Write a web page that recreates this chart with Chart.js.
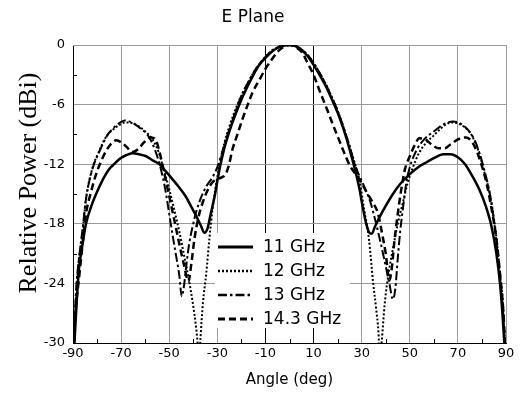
<!DOCTYPE html>
<html>
<head>
<meta charset="utf-8">
<script src="https://cdn.jsdelivr.net/npm/chart.js@4.4.1/dist/chart.umd.min.js"></script>
<style>
  html, body { margin: 0; padding: 0; background: #fff; }
  #wrap { width: 520px; height: 394px; }
</style>
</head>
<body>
<div id="wrap"><canvas id="ePlaneChart" width="520" height="394"></canvas></div>
<script>
// --- Axis ticks and labels ---
const xTickValues = [-90, -70, -50, -30, -10, 10, 30, 50, 70, 90];
const yTickValues = [-30, -24, -18, -12, -6, 0];
const seriesLabels = ['11 GHz', '12 GHz', '13 GHz', '14.3 GHz'];

// --- 11 GHz (solid) ---
const angle11 = [-89.4, -88.5, -87.5, -86, -84.6, -82.5, -80.4, -77.5, -75, -72.5, -70.8, -68, -65.4, -62.5, -59.6, -57, -54, -51.5, -48.7, -46, -43, -40.8, -38.8, -37, -35.3, -34, -33, -32, -31, -30, -29, -27, -25, -22.5, -20, -17.5, -15, -12.5, -10, -7.5, -5, -2.5, 0, 2.5, 5, 7.5, 10, 12.5, 15, 17.5, 20, 22.5, 25, 27.5, 29, 30.5, 32, 33.2, 34.2, 35.5, 37.5, 40, 43, 46, 50, 53.5, 57, 60, 64, 67, 70, 73, 76, 79, 81.7, 84, 86, 87.5, 88.5, 89.3];
const power11 = [-30, -26, -22.5, -20, -18, -16.3, -15, -13.5, -12.5, -11.9, -11.5, -11.1, -10.9, -11.0, -11.2, -11.6, -12.0, -12.7, -13.5, -14.3, -15.3, -16.3, -17.2, -18.1, -18.9, -18.4, -17.3, -16.2, -15.1, -13.7, -12.4, -10.3, -8.7, -7.0, -5.5, -4.2, -3.0, -2.0, -1.3, -0.7, -0.3, -0.05, 0, -0.1, -0.5, -1.1, -2.0, -3.0, -4.1, -5.4, -6.8, -8.5, -10.5, -12.8, -14.4, -16.4, -18.1, -18.9, -19.0, -18.3, -17.3, -16.2, -15.0, -14.0, -13.0, -12.3, -11.8, -11.4, -11.0, -11.0, -11.3, -12.0, -13.2, -14.6, -16.3, -18.3, -21, -24, -27, -30];

// --- 12 GHz (dotted) ---
const angle12 = [-89.6, -88.8, -87.5, -86, -84.6, -81.7, -79.5, -77.5, -75.5, -73.3, -71, -68.3, -65, -62, -59.5, -56.7, -54.5, -52.9, -51.5, -50, -48, -45.8, -43.8, -41.7, -40, -38.8, -38.2, -37.6, -37, -36, -34.6, -33.3, -32, -30.5, -29, -27, -25, -22.5, -20, -17.5, -15, -12.5, -10, -7.5, -5, -2.5, 0, 2.5, 5, 7.5, 10, 12.5, 15, 17.5, 20, 22.5, 25, 27.5, 29, 31, 33, 34.8, 36, 37, 37.6, 38.3, 39.6, 41.5, 43, 45, 47, 49, 51, 54, 57, 60, 62.5, 65, 68, 71, 75, 77, 79, 81, 83.3, 85, 86.3, 87.5, 88.7, 89.5];
const power12 = [-30, -25.5, -21.5, -18.8, -15.5, -12.2, -10.9, -9.8, -9.0, -8.5, -8.1, -7.8, -7.9, -8.3, -8.8, -9.6, -10.7, -12.0, -13.2, -14.5, -16.5, -18.8, -21.2, -23.8, -26.3, -28.5, -30, -32, -29.5, -26, -23, -19.5, -16.5, -14, -12, -9.8, -8.2, -6.5, -5.1, -3.9, -2.8, -1.9, -1.2, -0.6, -0.25, -0.05, 0, -0.1, -0.45, -1.0, -1.8, -2.8, -3.9, -5.2, -6.6, -8.3, -10.2, -12.2, -13.5, -16.5, -19.5, -24, -26.5, -29, -32, -30, -26, -22.5, -20.5, -18, -16, -14, -12.5, -10.8, -9.8, -9.1, -8.5, -8.0, -7.8, -8.0, -8.8, -9.7, -11, -12.8, -15, -17.5, -20, -23, -26, -30];

// --- 13 GHz (dash-dot) ---
const angle13 = [-89.6, -88.8, -87.5, -86, -84.6, -81.7, -79.5, -77.5, -75.5, -73.3, -71, -68.5, -65.5, -62.5, -60, -58.3, -56, -54, -52.5, -51.3, -50, -48.7, -47.3, -45.8, -44.8, -44, -42.8, -41.7, -40.3, -38.8, -36.5, -34.5, -32, -30, -28, -26, -24, -22, -20, -17.5, -15, -12.5, -10, -7.5, -5, -2.5, 0, 2.5, 5, 7.5, 10, 12.5, 15, 17.5, 20, 22.5, 25, 27.5, 29.5, 31.5, 33.5, 35.5, 37.5, 39.5, 41.5, 43, 44, 45, 46, 47.5, 48.6, 50, 53, 56, 60, 64, 68, 71, 74, 77, 79, 81, 83.3, 85, 86.3, 87.5, 88.7, 89.5];
const power13 = [-30, -25, -21.5, -18.5, -15.5, -12.3, -11, -9.9, -9.0, -8.4, -7.9, -7.6, -7.8, -8.3, -8.8, -9.3, -10.5, -12, -13.5, -15, -17, -19, -21, -23.2, -25.3, -24.5, -22, -20, -18.3, -16.8, -15.2, -14.2, -13.3, -12.3, -10.8, -9.2, -7.8, -6.4, -5.1, -3.9, -2.8, -1.9, -1.2, -0.6, -0.25, -0.05, 0, -0.1, -0.45, -1.0, -1.8, -2.8, -3.9, -5.2, -6.6, -8.3, -10.2, -12.3, -13.4, -14.5, -15.7, -17.5, -19.5, -21.7, -24, -25.6, -24.5, -21.5, -18.8, -15.8, -13.8, -12.3, -10.5, -9.5, -8.7, -8.0, -7.7, -7.9, -8.5, -9.6, -10.9, -12.6, -15, -17.7, -20.5, -23.5, -26.5, -30];

// --- 14.3 GHz (dashed) ---
const angle14 = [-89.6, -88.8, -87.5, -86, -84.6, -82.5, -80.4, -78.5, -76.3, -74, -72, -70, -67.5, -65.5, -63, -60.5, -57.5, -55.5, -53.5, -52, -50, -48, -46, -44, -42, -40.8, -39.5, -38, -36, -34, -32, -30, -28, -26.5, -25, -23.7, -21.5, -19.6, -17.5, -15.4, -12.5, -10, -7.5, -5, -2.5, 0, 2.5, 5.4, 7.5, 10, 12.5, 15.8, 18.5, 21, 23, 25, 27.8, 30, 32, 34.5, 36.7, 38.5, 40, 41.5, 42.5, 43.5, 45, 46.5, 48, 50, 52, 54, 56.5, 59, 62, 64.5, 67, 70, 73.5, 76, 78, 80, 82, 84, 86, 87.5, 88.8, 89.6];
const power14 = [-30, -26.5, -23.5, -20, -17, -14.8, -13, -11.8, -10.7, -9.9, -9.6, -9.8, -10.3, -10.8, -10.5, -9.8, -9.3, -9.6, -11.3, -13, -15.2, -17.5, -19.8, -22, -23.8, -22, -19.5, -17.5, -15.8, -14.6, -13.8, -13.5, -13.3, -13.0, -11.9, -10.5, -8.9, -7.5, -6.1, -4.8, -3.5, -2.4, -1.5, -0.7, -0.2, 0, -0.2, -0.8, -1.8, -3.0, -4.6, -6.6, -8.3, -9.8, -11.0, -12.1, -13.1, -13.9, -14.8, -15.8, -16.9, -19, -21, -23.7, -22.5, -20, -17, -14.5, -12.5, -11.2, -10.1, -9.4, -9.5, -10.0, -10.4, -10.4, -10.0, -9.5, -9.3, -9.8, -10.8, -12.2, -14, -16.5, -19.5, -23, -26.5, -30];

function toPoints(xs, ys) {
    return xs.map((x, i) => ({ x: x, y: ys[i] }));
}

Chart.defaults.font.family = "'DejaVu Sans', sans-serif";
Chart.defaults.color = '#000';

// frame, minor ticks, y title and the boxed legend inside the plot
const plotExtras = {
    id: 'plotExtras',
    beforeDatasetsDraw(chart) {
        const { ctx, chartArea: a } = chart;
        ctx.save();
        // white legend box hides the grid behind it
        ctx.fillStyle = '#fff';
        ctx.fillRect(a.left + 142, a.top + 188, 135, 95);
        // top and right edges are grey in the original
        ctx.strokeStyle = '#9a9a9a';
        ctx.lineWidth = 1;
        ctx.beginPath();
        const t = Math.round(a.top) + 0.5, r = Math.round(a.right) + 0.5;
        ctx.moveTo(a.left, t);
        ctx.lineTo(r, t);
        ctx.lineTo(r, a.bottom);
        ctx.stroke();
        ctx.restore();
    },
    afterDatasetsDraw(chart) {
        const { ctx, chartArea: a, scales: { x, y } } = chart;
        ctx.save();
        // legend
        const rowY = [247, 271, 295, 319];
        ctx.font = "17px 'DejaVu Sans'";
        ctx.textBaseline = 'middle';
        chart.data.datasets.forEach((ds, i) => {
            ctx.beginPath();
            ctx.strokeStyle = ds.borderColor;
            ctx.lineWidth = ds.borderWidth + 0.5;
            ctx.setLineDash(ds.borderDash || []);
            ctx.moveTo(a.left + 145, rowY[i]);
            ctx.lineTo(a.left + 180, rowY[i]);
            ctx.stroke();
            ctx.setLineDash([]);
            ctx.fillStyle = '#000';
            ctx.fillText(ds.label, a.left + 190, rowY[i] + 1);
        });

        // minor ticks on bottom and left axes
        ctx.strokeStyle = '#000';
        ctx.lineWidth = 1;
        ctx.beginPath();
        for (let v = -80; v <= 80; v += 20) {
            const px = Math.round(x.getPixelForValue(v)) + 0.5;
            ctx.moveTo(px, a.bottom);
            ctx.lineTo(px, a.bottom - 4);
        }
        for (let v = -27; v <= -3; v += 6) {
            const py = Math.round(y.getPixelForValue(v)) + 0.5;
            ctx.moveTo(a.left, py);
            ctx.lineTo(a.left + 4, py);
        }
        ctx.stroke();

        // y axis title
        ctx.translate(29, 183);
        ctx.rotate(-Math.PI / 2);
        ctx.font = "26px 'Liberation Serif'";
        ctx.textAlign = 'center';
        ctx.fillText('Relative Power (dBi)', 0, 0);
        ctx.restore();
    }
};

new Chart(document.getElementById('ePlaneChart').getContext('2d'), {
    type: 'line',
    data: {
        datasets: [
            {
                label: seriesLabels[0],
                data: toPoints(angle11, power11),
                borderColor: '#000',
                borderWidth: 2.5,
                borderDash: []
            },
            {
                label: seriesLabels[1],
                data: toPoints(angle12, power12),
                borderColor: '#000',
                borderWidth: 2,
                borderDash: [2, 2]
            },
            {
                label: seriesLabels[2],
                data: toPoints(angle13, power13),
                borderColor: '#000',
                borderWidth: 2,
                borderDash: [9, 3, 2.5, 3]
            },
            {
                label: seriesLabels[3],
                data: toPoints(angle14, power14),
                borderColor: '#000',
                borderWidth: 2.5,
                borderDash: [7, 4]
            }
        ]
    },
    options: {
        responsive: false,
        animation: false,
        clip: 0,
        cubicInterpolationMode: 'monotone',
        elements: { point: { radius: 0 } },
        layout: { padding: { right: 14 } },
        plugins: {
            legend: { display: false },
            tooltip: { enabled: false },
            title: {
                display: true,
                text: 'E Plane',
                font: { size: 17, weight: 'normal' },
                padding: { top: 7, bottom: 17.6 }
            }
        },
        scales: {
            x: {
                type: 'linear',
                min: -90,
                max: 90,
                afterFit: scale => { scale.height = 51; },
                afterBuildTicks: scale => { scale.ticks = xTickValues.map(v => ({ value: v })); },
                grid: {
                    drawTicks: false,
                    color: c => (c.tick && Math.abs(c.tick.value) === 10) ? '#000' : '#9a9a9a'
                },
                border: { color: '#000' },
                ticks: { padding: 3, font: { size: 13 }, maxRotation: 0 },
                title: {
                    display: true,
                    text: 'Angle (deg)',
                    font: { size: 15 },
                    padding: { top: 0, bottom: 5 }
                }
            },
            y: {
                min: -30,
                max: 0,
                afterFit: scale => { scale.width = 73; },
                afterBuildTicks: scale => { scale.ticks = yTickValues.map(v => ({ value: v })); },
                grid: { drawTicks: false, color: '#9a9a9a' },
                border: { color: '#000' },
                ticks: { padding: 8, font: { size: 13 } }
            }
        }
    },
    plugins: [plotExtras]
});
</script>
</body>
</html>
